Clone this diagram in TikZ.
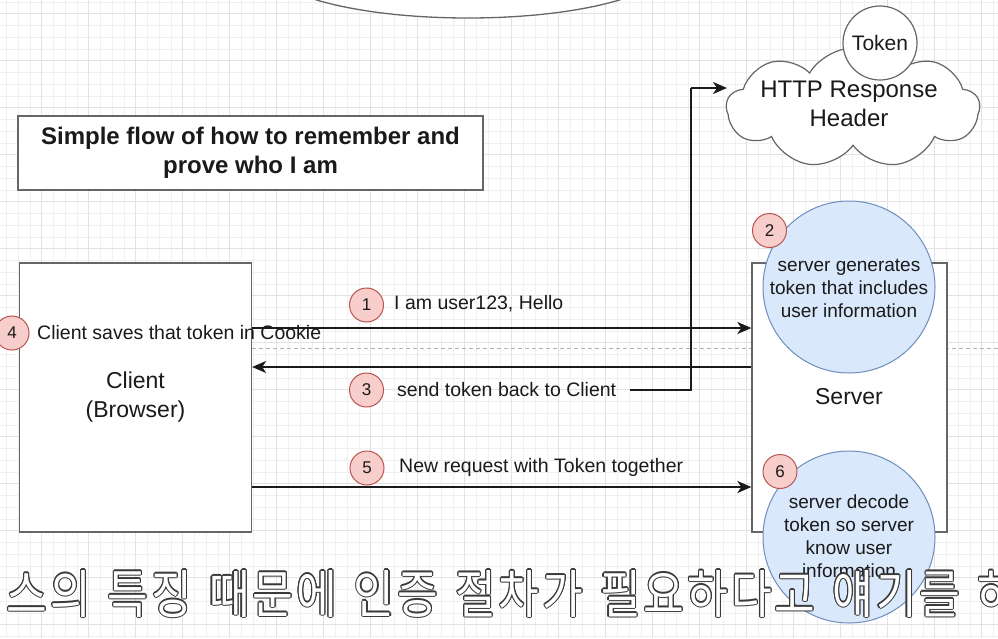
\documentclass[tikz,border=0pt]{standalone}
\usepackage{fontspec}
\setmainfont{Liberation Sans}
\newfontfamily\krfont{Noto Sans CJK KR}
\usetikzlibrary{shapes.geometric,shapes.symbols,arrows.meta,calc}
\definecolor{gridminor}{HTML}{F0F0F0}
\definecolor{gridmajor}{HTML}{E2E2E2}
\definecolor{boxline}{HTML}{666666}
\definecolor{bluefill}{HTML}{DAE8FC}
\definecolor{blueline}{HTML}{6C8EBF}
\definecolor{pinkfill}{HTML}{F8CECC}
\definecolor{pinkline}{HTML}{B85450}
\definecolor{ink}{HTML}{1A1A1A}
\definecolor{subline}{HTML}{3A3A3A}
\newcommand\fs[2]{\fontsize{#1}{#2}\selectfont}
\begin{document}
\begin{tikzpicture}[x=1pt,y=-1pt,
  minorg/.style={draw=gridminor,line width=0.8pt},
  majorg/.style={draw=gridmajor,line width=0.9pt},
  plainbox/.style={draw=boxline,line width=1.3pt,fill=white,rectangle,inner sep=0pt},
  bigcirc/.style={circle,draw=blueline,fill=bluefill,line width=1pt,minimum size=172pt,inner sep=0pt},
  badge/.style={circle,draw=pinkline,fill=pinkfill,line width=1pt,minimum size=34pt,inner sep=0pt,text=ink,font=\fs{17}{20}},
  elabel/.style={anchor=west,inner sep=0pt,text=ink,font=\fs{19.5}{23}},
  ctext/.style={align=center,inner sep=0pt,text=ink,font=\fs{19}{23}},
  arr/.style={draw=ink,line width=2pt,-{Stealth[length=14pt,width=12pt,inset=4pt]}},
  conn/.style={draw=ink,line width=2pt},
  subt/.style={anchor=base,inner sep=0pt,xscale=0.85,font=\krfont\fs{52}{56}}
]
\useasboundingbox (0,0) rectangle (998,638);
\clip (0,0) rectangle (998,638);
\fill[white] (0,0) rectangle (998,638);
% grid
\foreach \k in {-4,...,81} \draw[minorg] ({41.7+11.75*\k},0) -- ({41.7+11.75*\k},638);
\foreach \k in {-2,...,53} \draw[minorg] (0,{13.7+11.75*\k}) -- (998,{13.7+11.75*\k});
\foreach \k in {-1,...,20} \draw[majorg] ({41.7+47*\k},0) -- ({41.7+47*\k},638);
\foreach \k in {0,...,13} \draw[majorg] (0,{13.7+47*\k}) -- (998,{13.7+47*\k});
% top ellipse
\node[ellipse,draw=boxline,line width=1.3pt,fill=white,minimum width=400pt,minimum height=104pt] (topell) at (468,-34) {};
% title
\node[plainbox,minimum width=465pt,minimum height=74pt] (titlebox) at (250.5,153) {};
\node[align=center,inner sep=0pt,text=ink,font=\bfseries\fs{24}{29}] (title) at (250.5,153) {Simple flow of how to remember and\\prove who I am};
% cloud
\node[cloud,cloud puffs=9,cloud puff arc=120,cloud ignores aspect,draw=boxline,line width=1.2pt,fill=white,minimum width=253pt,minimum height=120pt,inner sep=0pt] (cloud) at (853,108) {};
\node[align=center,inner sep=0pt,text=ink,font=\fs{24}{29}] (cloudtxt) at (849,104) {HTTP Response\\Header};
\node[circle,draw=boxline,line width=1.2pt,fill=white,minimum size=74pt,inner sep=0pt,text=ink,font=\fs{21}{24}] (token) at (880,43) {Token};
% dashed divider
\coordinate (dashL) at (252,348);
\coordinate (dashR) at (998,348);
\draw[draw=black!30,line width=0.8pt,dash pattern=on 4pt off 3pt] (dashL) -- (dashR);
% client and server
\node[plainbox,minimum width=232pt,minimum height=269pt] (client) at (135.5,397.5) {};
\node[align=center,inner sep=0pt,text=ink,font=\fs{23}{29}] (clienttxt) at (135.5,397.5) {Client\\(Browser)};
\node[plainbox,minimum width=195pt,minimum height=269pt] (server) at (849.5,397.5) {};
\node[inner sep=0pt,text=ink,font=\fs{23}{29}] (servertxt) at (849,397) {Server};
% blue circles
\node[bigcirc] (gen) at (849,287) {};
\node[ctext] (gentxt) at (849,288) {server generates\\token that includes\\user information};
\node[bigcirc] (dec) at (849,537) {};
\node[ctext] (dectxt) at (849,536.5) {server decode\\token so server\\know user\\information};
% arrows
\draw[arr] (client.east |- 0,328) -- (server.west |- 0,328);
\draw[arr] (server.west |- 0,367) -- (client.east |- 0,367);
\draw[arr] (client.east |- 0,487) -- (server.west |- 0,487);
\coordinate (c3) at (630,390);
\coordinate (bend) at (691,88);
\coordinate (cloudin) at (727,88);
\draw[conn] (c3) -| (bend);
\draw[arr] (bend) -- (cloudin);
% badges and labels
\node[badge] (b1) at (366.5,305) {1};
\node[elabel] (l1) at (394,304) {I am user123, Hello};
\node[badge] (b2) at (769.5,230.5) {2};
\node[badge] (b3) at (366.5,390) {3};
\node[elabel] (l3) at (397,390) {send token back to Client};
\node[badge] (b4) at (12,333) {4};
\node[elabel] (l4) at (37,333) {Client saves that token in Cookie};
\node[badge] (b5) at (367,468) {5};
\node[elabel] (l5) at (399,467) {New request with Token together};
\node[badge] (b6) at (780,471.5) {6};
% subtitle overlay, one glyph at a time
\foreach \c/\x in {비/-35.7,스/8,의/51.7,특/109.2,징/152.9,때/210.4,문/254.1,에/297.8,인/355.3,증/399,절/456.5,차/500.2,가/543.9,필/601.4,요/645.1,하/688.8,다/732.5,고/776.2,얘/833.7,기/877.4,를/921.1,하/978.6}{
  \foreach \a in {0,30,...,330}
    \node[subt,text=subline] at ($({\x+19},613)+(\a:1.1)$) {\c};
  \node[subt,text=white] at ({\x+19},613) {\c};
}
\end{tikzpicture}
\end{document}
